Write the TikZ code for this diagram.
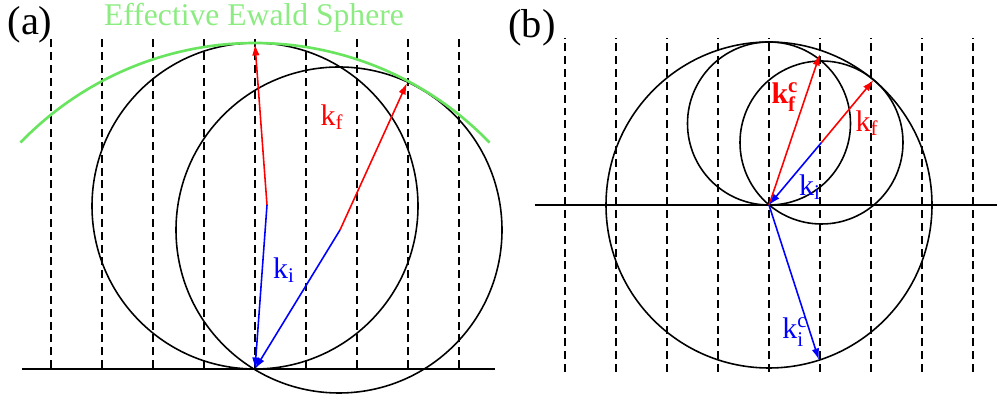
\documentclass[tikz,border=0pt]{standalone}
\usepackage{fontspec}
\setmainfont{Liberation Serif}
\usetikzlibrary{arrows.meta}
\definecolor{ewald}{RGB}{105,228,95}
\definecolor{ewaldtext}{RGB}{140,236,130}
\begin{document}
\begin{tikzpicture}[>={Latex[length=2.3mm,width=1.5mm]},line width=0.9pt]
\tikzstyle{lat}=[dash pattern=on 4.5pt off 2.8pt,line width=1pt]
\tikzstyle{kf}=[->,red]
\tikzstyle{ki}=[->,blue]
\tikzstyle{lbl}=[font=\fontsize{17}{17}\selectfont,inner sep=1pt]
\tikzstyle{tag}=[font=\fontsize{23}{23}\selectfont]
\useasboundingbox (0,0) rectangle (19.94,8);
% (a) two incident beams, one effective sphere
\foreach \k in {-4,...,4} \draw[lat] (5.1+\k*1.02,0.64) -- (5.1+\k*1.02,7.26);
\draw[line width=1.3pt] (0.44,0.62) -- (9.9,0.62);
\coordinate (Oa) at (5.1,0.62);
\coordinate (ca) at (5.34,3.9); \coordinate (cb) at (6.8,3.4);
\coordinate (ta) at (5.1,7.12); \coordinate (tb) at (8.14,6.34);
\draw (5.1,3.88) circle[radius=3.26]; \draw (6.78,3.4) circle[radius=3.26];
\draw[ewald,line width=1.5pt] (Oa) ++(44:6.52) arc[start angle=44,end angle=136,radius=6.52];
\draw[kf] (ca) -- (ta); \draw[kf] (cb) -- (tb);
\draw[ki] (ca) -- (Oa); \draw[ki] (cb) -- (Oa);
\node[tag] (taga) at (0.6,7.5) {(a)};
\node[ewaldtext,font=\fontsize{18}{18}\selectfont,inner sep=0pt,anchor=base] (ewlbl) at (5.08,7.48) {Effective Ewald Sphere};
\node[lbl,red] (kfa) at (6.64,5.66) {$\mathrm{k}_\mathrm{f}$};
\node[lbl,blue] (kia) at (5.68,2.6) {$\mathrm{k}_\mathrm{i}$};
% (b) backscattering, small spheres inside the big one
\foreach \k in {-4,...,4} \draw[lat] (15.38+\k*1.02,0.56) -- (15.38+\k*1.02,7.24);
\draw[line width=1.3pt] (10.7,3.9) -- (19.94,3.9);
\coordinate (Ob) at (15.38,3.9);
\coordinate (cc) at (16.43,5.15);
\draw (Ob) circle[radius=3.26];
\draw (15.38,5.53) circle[radius=1.63]; \draw (cc) circle[radius=1.63];
\coordinate (tc) at (16.4,6.92); \coordinate (td) at (17.47,6.4); \coordinate (te) at (16.38,0.8);
\draw[kf] (Ob) -- (tc); \draw[kf] (cc) -- (td);
\draw[ki] (cc) -- (Ob); \draw[ki] (Ob) -- (te);
\node[tag] (tagb) at (10.64,7.44) {(b)};
\node[lbl,red] (kfc) at (15.7,6.06) {$\mathbf{k}_\mathbf{f}^\mathbf{c}$};
\node[lbl,red] (kfb) at (17.34,5.54) {$\mathrm{k}_\mathrm{f}$};
\node[lbl,blue] (kib) at (16.2,4.26) {$\mathrm{k}_\mathrm{i}$};
\node[lbl,blue] (kic) at (15.9,1.36) {$\mathrm{k}_\mathrm{i}^\mathrm{c}$};
\end{tikzpicture}
\end{document}
